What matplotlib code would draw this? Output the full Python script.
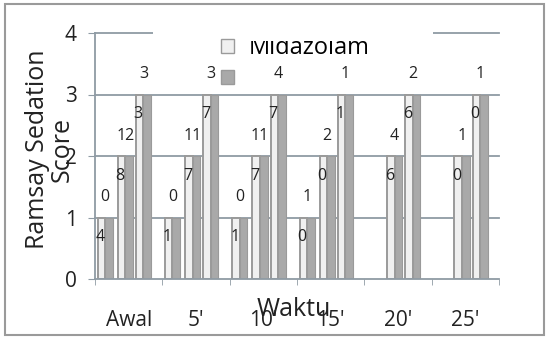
import matplotlib.pyplot as plt
from matplotlib.patches import Patch, Rectangle
from matplotlib.transforms import Bbox
import numpy as np

plt.rcParams['font.family'] = ['Open Sans', 'DejaVu Sans']

# time points and Ramsay score levels
times = ["Awal", "5'", "10'", "15'", "20'", "25'"]
scores = [1, 2, 3]

# number of patients at each score, per time point (None = no bar)
midazolam = [[4, 8, 3], [1, 7, 7], [1, 7, 7], [0, 0, 1], [None, 6, 6], [None, 0, 0]]
pembanding = [[0, 12, 3], [0, 11, 3], [0, 11, 4], [1, 2, 1], [None, 4, 2], [None, 1, 1]]

light = '#f0f0f0'
dark = '#a9a9a9'
edge = '#9a9a9a'
grid = '#8f9ba4'

W, H = 548, 339
fig = plt.figure(figsize=(W / 100, H / 100), dpi=100)
ax = fig.add_axes([95 / W, 60 / H, 404 / W, 246 / H])

# position of each score pair inside a time group
offsets = [-0.35, -0.05, 0.22]
bw = 0.112

for i in range(len(times)):
    for j, s in enumerate(scores):
        if midazolam[i][j] is None:
            continue
        xc = i + offsets[j]
        ax.bar(xc - bw / 2, s, bw, color=light, edgecolor=edge, linewidth=1.4, zorder=2)
        ax.bar(xc + bw / 2, s, bw, color=dark, edgecolor=edge, linewidth=0.8, zorder=2)
        ax.text(xc - bw / 2 - 0.02, s - 0.32, str(midazolam[i][j]), ha='center', va='center',
                fontsize=11.5, color='#222222', zorder=4)
        ax.text(xc, s + 0.33, str(pembanding[i][j]), ha='center', va='center',
                fontsize=11.5, color='#222222', zorder=4)

ax.set_xlim(-0.5, len(times) - 0.5)
ax.set_ylim(0, 4)
for y in [1, 2, 3, 4]:
    ax.axhline(y, color=grid, linewidth=1.3, zorder=0.5, clip_on=False)

for s in ['top', 'right']:
    ax.spines[s].set_visible(False)
for s in ['left', 'bottom']:
    ax.spines[s].set_color(grid)
    ax.spines[s].set_linewidth(1.3)

ax.set_yticks([0, 1, 2, 3, 4])
ax.tick_params(axis='y', length=5, color=grid, labelsize=15, pad=8, labelcolor='#222222')
ax.set_xticks(range(len(times)))
ax.set_xticklabels(times)
ax.tick_params(axis='x', length=0, labelsize=15, pad=22, labelcolor='#222222')
ax.set_xticks(np.arange(len(times) + 1) - 0.5, minor=True)
ax.tick_params(axis='x', which='minor', length=4, color=grid)

ax.text(2.45, -0.5, 'Waktu', ha='center', va='center', fontsize=18, color='#222222')
fig.text(50 / W, (H - 149) / H, 'Ramsay Sedation\nScore', rotation=90, ha='center',
         va='center', multialignment='center', fontsize=18, linespacing=1.0, color='#222222')

# white area behind the legend hides the top grid line
ax.add_patch(Rectangle((0.1436, 0.96), 0.693, 0.1, transform=ax.transAxes,
                       facecolor='white', edgecolor='none', zorder=1.5, clip_on=False))

handles = [Patch(facecolor=light, edgecolor=edge), Patch(facecolor=dark, edgecolor=edge)]
leg = ax.legend(handles, ['Midazolam', ''], loc='upper left', bbox_to_anchor=(0.283, 1.035),
                frameon=False, fontsize=17, handlelength=0.55, handleheight=0.55,
                handletextpad=0.6, labelspacing=0.3, borderpad=0)
leg.set_zorder(3)
fig.canvas.draw()
leg.get_texts()[0].set_clip_box(Bbox([[0, 0], [W, H - 41]]))
leg.get_texts()[0].set_clip_on(True)

# outer frame
fig.add_artist(Rectangle((5 / W, 4 / H), 539 / W, 331 / H, transform=fig.transFigure,
                         facecolor='none', edgecolor='#9a9a9a', linewidth=1.5))

fig.savefig('out.png', dpi=100)
